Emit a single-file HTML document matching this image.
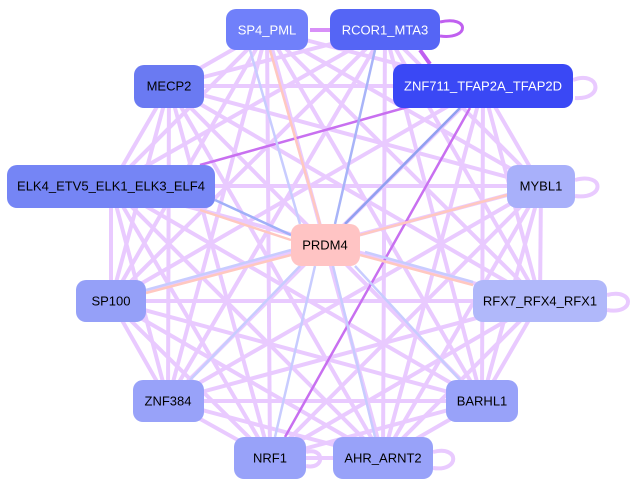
<!DOCTYPE html>
<html><head><meta charset="utf-8"><style>
body{margin:0;background:#fff;width:639px;height:489px;overflow:hidden}
svg{display:block}
text{font-family:"Liberation Sans",sans-serif;font-size:13px;text-anchor:middle;dominant-baseline:central}
</style></head><body>
<svg width="639" height="489" viewBox="0 0 639 489">
<defs>
<marker id="ml" markerWidth="4" markerHeight="4" refX="3.5" refY="2" orient="auto"><path d="M0,0L4,2L0,4z" fill="#e0c0ff"/></marker>
</defs>
<g stroke="#e8c8ff" stroke-width="4" opacity="0.95" fill="none">
<line x1="267" y1="30" x2="483" y2="86"/><line x1="267" y1="30" x2="169" y2="86"/><line x1="267" y1="30" x2="111" y2="186"/><line x1="267" y1="30" x2="541" y2="186"/><line x1="267" y1="30" x2="111" y2="301"/><line x1="267" y1="30" x2="540" y2="301"/><line x1="267" y1="30" x2="168" y2="401"/><line x1="267" y1="30" x2="482" y2="401"/><line x1="267" y1="30" x2="270" y2="458"/><line x1="267" y1="30" x2="383" y2="458"/>
<line x1="385" y1="30" x2="169" y2="86"/><line x1="385" y1="30" x2="111" y2="186"/><line x1="385" y1="30" x2="541" y2="186"/><line x1="385" y1="30" x2="111" y2="301"/><line x1="385" y1="30" x2="540" y2="301"/><line x1="385" y1="30" x2="168" y2="401"/><line x1="385" y1="30" x2="482" y2="401"/><line x1="385" y1="30" x2="383" y2="458"/>
<line x1="483" y1="86" x2="169" y2="86"/><line x1="483" y1="86" x2="541" y2="186"/><line x1="483" y1="86" x2="111" y2="301"/><line x1="483" y1="86" x2="540" y2="301"/><line x1="483" y1="86" x2="168" y2="401"/><line x1="483" y1="86" x2="482" y2="401"/><line x1="483" y1="86" x2="383" y2="458"/>
<line x1="169" y1="86" x2="111" y2="186"/><line x1="169" y1="86" x2="541" y2="186"/><line x1="169" y1="86" x2="111" y2="301"/><line x1="169" y1="86" x2="540" y2="301"/><line x1="169" y1="86" x2="168" y2="401"/><line x1="169" y1="86" x2="482" y2="401"/><line x1="169" y1="86" x2="270" y2="458"/><line x1="169" y1="86" x2="383" y2="458"/>
<line x1="111" y1="186" x2="541" y2="186"/><line x1="111" y1="186" x2="540" y2="301"/><line x1="111" y1="186" x2="168" y2="401"/><line x1="111" y1="186" x2="482" y2="401"/><line x1="111" y1="186" x2="270" y2="458"/><line x1="111" y1="186" x2="383" y2="458"/><line x1="111" y1="186" x2="111" y2="301"/>
<line x1="541" y1="186" x2="111" y2="301"/><line x1="541" y1="186" x2="540" y2="301"/><line x1="541" y1="186" x2="168" y2="401"/><line x1="541" y1="186" x2="482" y2="401"/><line x1="541" y1="186" x2="270" y2="458"/><line x1="541" y1="186" x2="383" y2="458"/>
<line x1="111" y1="301" x2="540" y2="301"/><line x1="111" y1="301" x2="168" y2="401"/><line x1="111" y1="301" x2="482" y2="401"/><line x1="111" y1="301" x2="270" y2="458"/><line x1="111" y1="301" x2="383" y2="458"/>
<line x1="540" y1="301" x2="168" y2="401"/><line x1="540" y1="301" x2="482" y2="401"/><line x1="540" y1="301" x2="270" y2="458"/><line x1="540" y1="301" x2="383" y2="458"/>
<line x1="168" y1="401" x2="482" y2="401"/><line x1="168" y1="401" x2="270" y2="458"/><line x1="168" y1="401" x2="383" y2="458"/>
<line x1="482" y1="401" x2="270" y2="458"/><line x1="482" y1="401" x2="383" y2="458"/>
<line x1="270" y1="458" x2="383" y2="458"/>
<path d="M573,80 C600,70 605,100 575,98"/><path d="M575,180 C605,172 605,200 575,196"/><path d="M607,295 C635,288 635,315 607,310"/><path d="M433,452 C460,445 460,472 433,468"/><path d="M306,452 C325,447 325,470 306,466"/>
</g>
<g fill="none" stroke-width="2.5">
<line x1="483" y1="86" x2="200" y2="165" stroke="#c870f0"/>
<line x1="470" y1="108" x2="285" y2="437" stroke="#c870f0"/>
<line x1="330" y1="30" x2="310" y2="30" stroke="#d890f8" stroke-width="4"/>
<path d="M440,22 C470,15 470,40 440,36" stroke="#c060f0" stroke-width="3"/>
<line x1="420" y1="50" x2="430" y2="64" stroke="#c060f0" stroke-width="4"/>
<line x1="460" y1="108" x2="345" y2="224" stroke="#90a0f0"/>
<line x1="250" y1="50" x2="300" y2="224" stroke="#c8ccff"/>
<line x1="270" y1="50" x2="320" y2="224" stroke="#ffc8c0"/>
<line x1="200" y1="210" x2="291" y2="240" stroke="#ffc8c0"/>
<line x1="215" y1="200" x2="291" y2="235" stroke="#a0b0f8"/>
<line x1="360" y1="235" x2="507" y2="195" stroke="#ffc8c0"/>
<line x1="360" y1="255" x2="473" y2="285" stroke="#ffc8c0"/>
<line x1="365" y1="252" x2="473" y2="282" stroke="#c8ccff"/>
<line x1="291" y1="255" x2="146" y2="293" stroke="#ffc8c0"/>
<line x1="291" y1="250" x2="146" y2="290" stroke="#c8ccff"/>
<line x1="190" y1="380" x2="300" y2="266" stroke="#c8ccff"/>
<line x1="275" y1="437" x2="315" y2="266" stroke="#c8ccff"/>
<line x1="375" y1="437" x2="333" y2="266" stroke="#c8ccff"/>
<line x1="460" y1="380" x2="355" y2="266" stroke="#c8ccff"/>
<line x1="375" y1="50" x2="335" y2="224" stroke="#a8b4f8"/>
</g>
<rect x="226" y="9" width="82" height="41" rx="10" fill="#7080fa"/><text x="267" y="30" fill="#fff">SP4_PML</text>
<rect x="330" y="9" width="110" height="41" rx="10" fill="#5565f5"/><text x="385" y="30" fill="#fff">RCOR1_MTA3</text>
<rect x="393" y="64" width="180" height="44" rx="10" fill="#3a48f5"/><text x="483" y="86" fill="#fff">ZNF711_TFAP2A_TFAP2D</text>
<rect x="134" y="65" width="70" height="43" rx="10" fill="#6a7af2"/><text x="169" y="86">MECP2</text>
<rect x="7" y="165" width="208" height="43" rx="10" fill="#7585f5"/><text x="111" y="186">ELK4_ETV5_ELK1_ELK3_ELF4</text>
<rect x="507" y="165" width="68" height="43" rx="10" fill="#a8b0fa"/><text x="541" y="186">MYBL1</text>
<rect x="291" y="224" width="69" height="42" rx="10" fill="#ffc4c4"/><text x="325" y="245">PRDM4</text>
<rect x="76" y="280" width="70" height="42" rx="10" fill="#95a0f8"/><text x="111" y="301">SP100</text>
<rect x="473" y="280" width="134" height="42" rx="10" fill="#b0b8fa"/><text x="540" y="301">RFX7_RFX4_RFX1</text>
<rect x="133" y="380" width="71" height="42" rx="10" fill="#98a2f9"/><text x="168" y="401">ZNF384</text>
<rect x="446" y="380" width="72" height="42" rx="10" fill="#98a2f9"/><text x="482" y="401">BARHL1</text>
<rect x="234" y="437" width="72" height="42" rx="10" fill="#98a2f9"/><text x="270" y="458">NRF1</text>
<rect x="333" y="437" width="100" height="42" rx="10" fill="#98a2f9"/><text x="383" y="458">AHR_ARNT2</text>
</svg>
</body></html>
